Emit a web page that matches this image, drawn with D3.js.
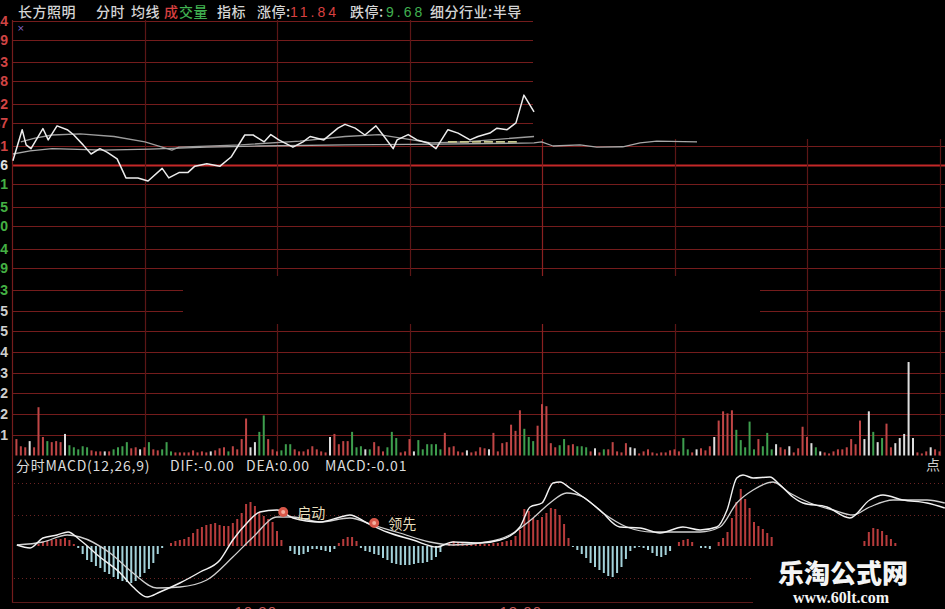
<!DOCTYPE html>
<html>
<head>
<meta charset="utf-8">
<script src="https://cdn.jsdelivr.net/npm/d3@7"></script>
<style>
  body { margin: 0; background: #000; }
  svg { display: block; }
</style>
</head>
<body>
<div id="chart"></div>
<script>
window.onload = start;

var width = 945;
var height = 609;

// ---------- data ----------
// price panel: tick labels (step 0.0545 around the previous close 10.76)
var priceMid = 10.76;
var priceStep = 0.0545;
var priceTicks = [11.14, 11.09, 11.03, 10.98, 10.92, 10.87, 10.81, 10.76, 10.71, 10.65, 10.60, 10.54, 10.49, 10.43];

// white price line (minute, price)
var priceMin = [0.2, 2.3, 3.2, 4.3, 7.0, 8.2, 10.2, 12.5, 14.0, 16.1, 17.9, 19.9, 21.5, 23.8, 25.8, 28.5, 30.8, 34.0, 35.5, 37.8,
  39.8, 41.4, 44.1, 47.1, 49.6, 52.7, 54.6, 57.1, 58.6, 60.4, 63.6, 65.9, 67.5, 70.6, 73.8, 75.4, 77.7, 79.9, 82.4, 84.0,
  86.3, 87.2, 89.7, 91.7, 94.2, 96.0, 98.7, 101.0, 103.7, 105.5, 108.2, 109.8, 112.1, 114.1, 115.9, 118.2];
var priceVal = [10.771, 10.853, 10.813, 10.803, 10.856, 10.826, 10.863, 10.853, 10.839, 10.813, 10.789, 10.803, 10.794, 10.776, 10.726, 10.726, 10.718, 10.751, 10.726, 10.740,
  10.740, 10.757, 10.763, 10.757, 10.781, 10.839, 10.839, 10.821, 10.840, 10.826, 10.807, 10.821, 10.835, 10.826, 10.857, 10.867, 10.857, 10.839, 10.863, 10.839,
  10.803, 10.826, 10.840, 10.826, 10.818, 10.803, 10.853, 10.844, 10.826, 10.835, 10.844, 10.857, 10.853, 10.871, 10.944, 10.900];

// average price line (lower grey)
var avgMin = [0.2, 4.1, 9.1, 20.6, 31.2, 44.1, 56.1, 75.4, 96.9, 118.2, 119.9, 122.5, 128.6, 132.4, 138.3, 142.2, 146.0, 155.1];
var avgVal = [10.789, 10.797, 10.803, 10.799, 10.802, 10.807, 10.810, 10.813, 10.815, 10.818, 10.821, 10.810, 10.813, 10.807, 10.808, 10.818, 10.823, 10.821];

// second grey line
var refMin = [2.0, 5.2, 9.1, 15.4, 23.1, 30.1, 36.2, 37.8, 51.8, 65.2, 75.4, 83.1, 94.9, 102.6, 118.2];
var refVal = [10.821, 10.831, 10.839, 10.842, 10.835, 10.821, 10.799, 10.807, 10.813, 10.823, 10.835, 10.840, 10.818, 10.821, 10.835];

// yellow dashed segment
var dashMin = [98.7, 114.3];
var dashVal = [10.821, 10.821];

// volume panel
var volTicks = [101, 202, 302, 403, 504, 605, 705];
var vol = [80, 45, 40, 70, 40, 235, 90, 70, 65, 70,
  65, 105, 50, 40, 30, 45, 40, 25, 20, 20,
  20, 20, 30, 40, 45, 65, 35, 40, 30, 40,
  65, 30, 25, 30, 65, 20, 15, 15, 15, 15,
  25, 15, 20, 15, 20, 25, 35, 40, 20, 45,
  30, 80, 180, 40, 65, 115, 195, 80, 30, 20,
  25, 55, 55, 30, 20, 20, 30, 45, 30, 20,
  15, 90, 105, 55, 70, 70, 115, 40, 45, 30,
  30, 65, 45, 20, 40, 115, 85, 15, 20, 80,
  20, 75, 30, 55, 55, 55, 30, 110, 40, 45,
  20, 15, 25, 15, 20, 40, 35, 30, 110, 20,
  60, 65, 150, 120, 220, 130, 90, 70, 145, 250,
  240, 60, 40, 50, 80, 50, 55, 45, 45, 40,
  20, 35, 15, 30, 30, 65, 20, 15, 60, 40,
  35, 10, 20, 30, 15, 10, 15, 15, 25, 30,
  20, 85, 30, 15, 30, 35, 25, 45, 90, 170,
  215, 205, 220, 125, 75, 40, 165, 30, 80, 45,
  110, 30, 55, 40, 30, 45, 15, 35, 140, 90,
  60, 40, 20, 15, 10, 20, 30, 30, 40, 80,
  55, 170, 80, 215, 115, 65, 85, 155, 40, 60,
  85, 105, 455, 85, 15, 10, 20, 40, 30, 20];
var volKind = ("rrrwrrrgrr" + "rwgggggrrr" + "wrggggrrwr" + "grrgggrrrr" + "rrrrwrrrgr" +
  "rrrwwggrrr" + "gggrrrrrrr" + "rwrrrrgggw" + "grrrgggrrr" + "wggggggrrr" +
  "rrwrrrrwrr" + "rrrrrgggrr" + "rrrggrrggg" + "rwrgrrrrrw" + "wrrrrrrrrr" +
  "rggrwrrrwr" + "rrrgggggrg" + "ggwrrwrrrr" + "wgwrrrrrrr" + "rrwwgwgrrw" + "wwwwrrrwrr").split("");

// MACD panel (chart units, zero line in the middle)
var macdDots = [63, 31.5, -31.5];
var difMin = [1.1, 4.1, 7.0, 10.2, 12.7, 15.4, 19.9, 24.5, 27.4, 30.6, 33.5, 38.0, 42.6, 47.1, 50.0, 53.2, 56.1, 60.0, 63.6, 69.7,
  73.6, 76.5, 80.4, 84.9, 90.8, 96.2, 99.8, 106.0, 110.5, 115.0, 117.3, 120.0, 122.5, 124.1, 126.3, 129.3, 133.1, 137.6, 142.2, 146.7,
  151.9, 155.8, 159.6, 161.9, 164.1, 165.5, 167.8, 171.6, 173.9, 176.8, 179.1, 184.5, 189.7, 194.2, 197.2, 201.7, 207.2, 211.2];
var difVal = [1, -2, 8, 11, 14, 6, -11, -27, -41, -51, -46, -37, -26, -14, 6, 23, 34, 36, 28, 24,
  28, 31, 23, 14, 6, -1, 4, 3, 6, 19, 39, 43, 63, 64, 58, 49, 36, 19, 18, 13,
  19, 16, 19, 36, 68, 71, 68, 69, 61, 49, 43, 39, 28, 46, 51, 46, 43, 38];
var deaMin = [1.1, 7.0, 12.5, 15.4, 22.2, 27.4, 32.8, 38.0, 44.1, 50.0, 54.6, 60.0, 63.6, 69.7, 76.5, 81.7, 87.8, 94.6, 99.8, 107.5,
  112.7, 118.0, 121.8, 125.6, 129.3, 133.8, 139.2, 145.1, 150.6, 155.8, 160.3, 164.1, 167.8, 172.3, 176.1, 180.7, 185.9, 190.4, 194.2, 199.5,
  207.2, 211.2];
var deaVal = [1, 4, 11, 9, -7, -27, -42, -41, -34, -11, 9, 29, 29, 24, 28, 21, 13, 4, 1, 4,
  11, 28, 43, 53, 49, 33, 19, 14, 14, 14, 19, 43, 56, 64, 53, 43, 36, 31, 39, 46,
  46, 43];
var macdHist = [0, 0, 0, 0, 0, 0,
  2, 4, 5, 6, 7, 7, 8, 6, 2,
  -2, -8, -14, -16, -20, -22, -26, -28, -31, -33, -35, -36, -37, -35, -31, -27, -23, -17, -8, -2,
  0,
  3, 5, 6, 7, 9, 13, 17, 19, 21, 22, 23, 21, 20, 20, 23, 27, 33, 42, 44, 40, 34, 30, 27, 24, 15, 6,
  0,
  -5, -8, -9, -8, -6, -3, -3, -4, -5, -6, -3,
  3, 7, 9, 9, 5,
  -2, -5, -6, -8, -9, -12, -14, -17, -18, -19, -19, -19, -18, -17, -17, -16, -14, -11, -6,
  0,
  3, 5, 4, 3, 2, 2, 2, 2, 2, 2, 3, 3, 4, 5, 6, 10, 16, 37, 35, 28, 26, 29, 33, 38, 37, 31, 22, 8,
  -1, -4, -8, -12, -17, -21, -24, -27, -30, -31, -27, -21, -13, -5, -2, -1, -2, -4, -7, -10, -11, -9, -5,
  0,
  4, 6, 7, 4,
  0,
  -2, -2, -3,
  0,
  4, 8, 14, 28, 44, 57, 47, 38, 24, 20, 17, 13, 9,
  0, 0, 0, 0, 0, 0, 0, 0, 0, 0, 0, 0, 0, 0, 0, 0, 0, 0, 0, 0,
  5, 14, 18, 17, 15, 11, 7, 3,
  0, 0, 0, 0, 0, 0, 0, 0, 0, 0, 0];

var signalMin = [61.4, 82.0];
var signalVal = [34, 23];
var signalText = ["启动", "领先"];

var gridMin = [30, 60, 90, 120, 150, 180, 210];
var timeLabels = ["10:30", "13:00"];
var timeLabelMin = [60, 120];

var titleText = ["长方照明", "分时", "均线", "成", "交量", "指标", "涨停:", "11.84", "跌停:", "9.68", "细分行业:半导"];
var titleColor = ["#d4d4d4", "#d4d4d4", "#d4d4d4", "#d84040", "#40b050", "#d4d4d4", "#d4d4d4", "#d84040", "#d4d4d4", "#40b050", "#d4d4d4"];
var macdTitle = ["分时MACD(12,26,9)", "DIF:-0.00", "DEA:0.00", "MACD:-0.01"];

var barColor = { r: "#c04646", g: "#3e9e4e", w: "#dedede" };

////////////////////////////////////////////////////////////////////////////////

function drawSeries(g, mins, vals, x, y, color, w, dash, curve) {
  var pts = mins.map(function (m, i) { return [m, vals[i]]; });
  var line = d3.line()
    .x(function (d) { return x(d[0]); })
    .y(function (d) { return y(d[1]); })
    .curve(curve || d3.curveLinear);
  g.append("path")
    .datum(pts)
    .attr("d", line)
    .attr("fill", "none")
    .attr("stroke", color)
    .attr("stroke-width", w)
    .attr("stroke-dasharray", dash || null)
    .attr("stroke-linejoin", "round");
}

function start() {
  var svg = d3.select("#chart")
    .append("svg")
    .attr("width", width)
    .attr("height", height);

  svg.append("rect").attr("width", width).attr("height", height).attr("fill", "#000");

  // one minute = 4.417px, 9:30 at x=12
  var xTime = d3.scaleLinear().domain([0, 30]).range([12, 144.5]);
  var priceY = d3.scaleLinear()
    .domain([priceMid - 7 * priceStep, priceMid + 7 * priceStep])
    .range([309.9, 20.1]);
  var volY = d3.scaleLinear().domain([0, 705.25]).range([455.5, 310.6]);
  var macdY = d3.scaleLinear().domain([-63, 63]).range([609, 483]);

  var grid = svg.append("g");

  // horizontal grid
  grid.selectAll(".hp")
    .data(priceTicks)
    .enter()
    .append("line")
    .attr("x1", 12).attr("x2", width)
    .attr("y1", function (d) { return Math.round(priceY(d)) + 0.5; })
    .attr("y2", function (d) { return Math.round(priceY(d)) + 0.5; })
    .attr("stroke", function (d) { return d == priceMid ? "#c42828" : "#741c1c"; })
    .attr("stroke-width", function (d) { return d == priceMid ? 2 : 1.2; });

  grid.selectAll(".hv")
    .data(volTicks)
    .enter()
    .append("line")
    .attr("x1", 12).attr("x2", width)
    .attr("y1", function (d) { return Math.round(volY(d)) + 0.5; })
    .attr("y2", function (d) { return Math.round(volY(d)) + 0.5; })
    .attr("stroke", "#741c1c")
    .attr("stroke-width", 1.2);

  // vertical grid
  grid.selectAll(".vg")
    .data(gridMin)
    .enter()
    .append("line")
    .attr("x1", function (d) { return Math.round(xTime(d)) + 0.5; })
    .attr("x2", function (d) { return Math.round(xTime(d)) + 0.5; })
    .attr("y1", 20).attr("y2", 456)
    .attr("stroke", function (d) { return d == 120 ? "#8a2020" : "#5c1616"; })
    .attr("stroke-width", 1.2);

  // left border + bottom line
  grid.append("line").attr("x1", 12.5).attr("x2", 12.5).attr("y1", 20).attr("y2", 603)
    .attr("stroke", "#741c1c").attr("stroke-width", 1.2);
  grid.append("line").attr("x1", 12).attr("x2", width).attr("y1", 602.5).attr("y2", 602.5)
    .attr("stroke", "#5c1a1a");

  // MACD dotted levels
  grid.selectAll(".md")
    .data(macdDots)
    .enter()
    .append("line")
    .attr("x1", 14).attr("x2", width)
    .attr("y1", function (d) { return Math.round(macdY(d)) + 0.5; })
    .attr("y2", function (d) { return Math.round(macdY(d)) + 0.5; })
    .attr("stroke", "#6a2424")
    .attr("stroke-dasharray", "1,3");

  // blacked-out parts of the screenshot
  svg.append("rect").attr("x", 533).attr("y", 0).attr("width", 412).attr("height", 139).attr("fill", "#000");
  svg.append("rect").attr("x", 183).attr("y", 276).attr("width", 577).attr("height", 48).attr("fill", "#000");
  svg.append("rect").attr("x", 753).attr("y", 556).attr("width", 192).attr("height", 53).attr("fill", "#000");

  // volume bars
  svg.selectAll(".vol")
    .data(vol)
    .enter()
    .append("rect")
    .attr("x", function (d, i) { return xTime(i + 1) - 1; })
    .attr("width", 2)
    .attr("y", function (d) { return volY(d); })
    .attr("height", function (d) { return volY(0) - volY(d); })
    .attr("fill", function (d, i) { return barColor[volKind[i]]; });

  // price lines
  var pg = svg.append("g");
  drawSeries(pg, refMin, refVal, xTime, priceY, "#9c9c9c", 1.3);
  drawSeries(pg, avgMin, avgVal, xTime, priceY, "#a8a8a8", 1.3);
  drawSeries(pg, dashMin, dashVal, xTime, priceY, "#c8c890", 1.6, "9,3");
  drawSeries(pg, priceMin, priceVal, xTime, priceY, "#ececec", 1.5);

  // MACD histogram (keep the minute index with each value)
  var histPts = macdHist
    .map(function (v, i) { return { m: i, v: v }; })
    .filter(function (d) { return d.v != 0; });
  svg.selectAll(".mh")
    .data(histPts)
    .enter()
    .append("rect")
    .attr("x", function (d) { return xTime(d.m) - 1; })
    .attr("width", 2)
    .attr("y", function (d) { return Math.min(macdY(d.v), macdY(0)); })
    .attr("height", function (d) { return Math.abs(macdY(0) - macdY(d.v)); })
    .attr("fill", function (d) { return d.v > 0 ? "#b83c3c" : "#a4d2da"; });

  var mg = svg.append("g");
  drawSeries(mg, deaMin, deaVal, xTime, macdY, "#cfcfcf", 1.3, null, d3.curveMonotoneX);
  drawSeries(mg, difMin, difVal, xTime, macdY, "#f2f2f2", 1.4, null, d3.curveMonotoneX);

  // signal markers
  signalMin.forEach(function (m, i) {
    var cx = xTime(m), cy = macdY(signalVal[i]);
    svg.append("circle").attr("cx", cx).attr("cy", cy).attr("r", 5).attr("fill", "#d8584a");
    svg.append("circle").attr("cx", cx).attr("cy", cy).attr("r", 2).attr("fill", "#f4b0a0");
    svg.append("text")
      .attr("x", cx + 14).attr("y", cy + 6)
      .attr("fill", "#e8dfbc")
      .style("font-family", "'Noto Sans CJK SC'")
      .style("font-size", "14px")
      .text(signalText[i]);
  });

  // title bar
  var titleX = [18, 96, 131, 164, 179, 217, 257, 290, 350, 386, 430];
  var title = svg.append("text")
    .attr("y", 17)
    .style("font-family", "'Noto Sans CJK SC'")
    .style("font-size", "14px")
    .style("font-weight", "500");
  titleText.forEach(function (t, i) {
    title.append("tspan")
      .attr("x", titleX[i])
      .attr("fill", titleColor[i])
      .style("letter-spacing", /^[0-9.]+$/.test(t) ? "3px" : "0.5px")
      .style("font-family", /^[0-9.]+$/.test(t) ? "'Liberation Sans'" : null)
      .text(t);
  });

  // the small purple icon
  svg.append("text").attr("x", 17).attr("y", 31).attr("fill", "#8a6ad0")
    .style("font-family", "'DejaVu Sans'").style("font-size", "9px").text("×");

  // left axis labels (cut off by the screenshot edge, as in the source)
  svg.selectAll(".pl")
    .data(priceTicks)
    .enter()
    .append("text")
    .attr("x", 8)
    .attr("y", function (d) { return priceY(d) + 5; })
    .attr("text-anchor", "end")
    .attr("fill", function (d) { return d > priceMid ? "#d04444" : (d == priceMid ? "#e0e0e0" : "#44b044"); })
    .style("font-family", "'Liberation Sans'")
    .style("font-size", "14px")
    .style("font-weight", "bold")
    .text(function (d) { return d.toFixed(2); });

  svg.selectAll(".vl")
    .data(volTicks)
    .enter()
    .append("text")
    .attr("x", 8)
    .attr("y", function (d) { return volY(d) + 5; })
    .attr("text-anchor", "end")
    .attr("fill", "#cfcfcf")
    .style("font-family", "'Liberation Sans'")
    .style("font-size", "14px")
    .style("font-weight", "bold")
    .text(function (d) { return d; });

  // MACD title
  var macdX = [16, 170, 246, 325];
  svg.selectAll(".mt")
    .data(macdTitle)
    .enter()
    .append("text")
    .attr("x", function (d, i) { return macdX[i]; })
    .attr("y", 471)
    .attr("fill", "#dcdcdc")
    .style("font-family", "'Noto Sans CJK SC'")
    .style("font-size", "14px")
    .style("letter-spacing", "0.8px")
    .text(function (d) { return d; });
  svg.append("text").attr("x", 926).attr("y", 470).attr("fill", "#d0d0d0")
    .style("font-family", "'Noto Sans CJK SC'").style("font-size", "14px").text("点");

  // time labels, only their top shows
  svg.selectAll(".tl")
    .data(timeLabels)
    .enter()
    .append("text")
    .attr("x", function (d, i) { return xTime(timeLabelMin[i]); })
    .attr("y", 617)
    .attr("text-anchor", "end")
    .attr("fill", "#c45a5a")
    .style("font-family", "'Liberation Sans'")
    .style("font-size", "15px")
    .style("letter-spacing", "1px")
    .text(function (d) { return d; });

  // watermark
  svg.append("text").attr("x", 843).attr("y", 583).attr("text-anchor", "middle")
    .attr("fill", "#f4f4f4")
    .style("font-family", "'Noto Sans CJK SC'").style("font-size", "26px").style("font-weight", "900")
    .text("乐淘公式网");
  svg.append("text").attr("x", 841).attr("y", 603).attr("text-anchor", "middle")
    .attr("fill", "#f4f4f4")
    .style("font-family", "'Liberation Serif'").style("font-size", "16px").style("font-weight", "bold")
    .text("www.60lt.com");
}
</script>
</body>
</html>
